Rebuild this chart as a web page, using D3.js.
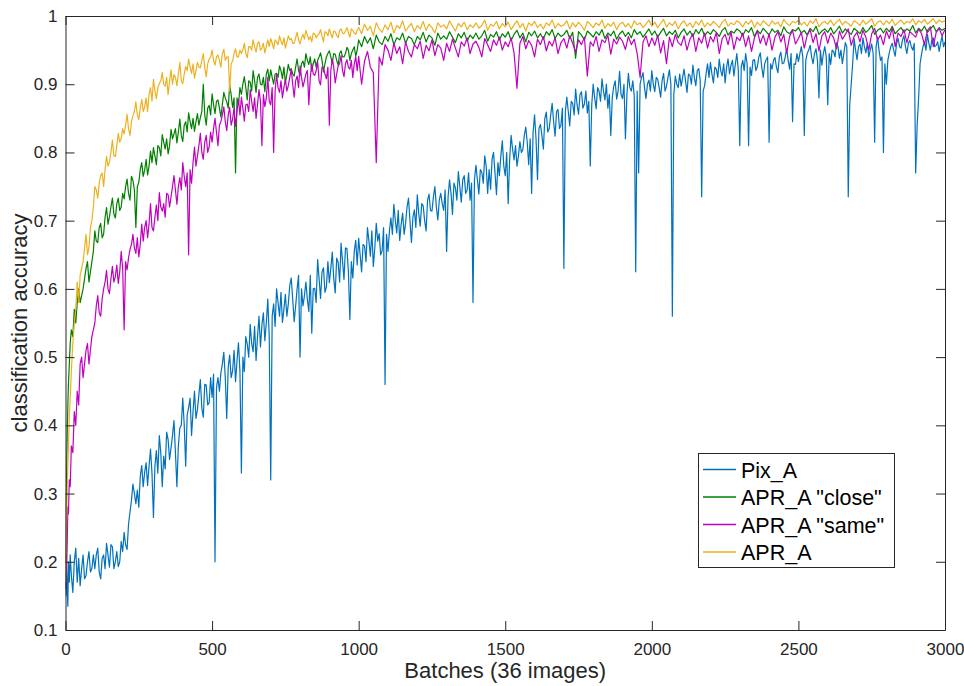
<!DOCTYPE html>
<html>
<head>
<meta charset="utf-8">
<script src="https://cdn.jsdelivr.net/npm/d3@7"></script>
<style>
html,body{margin:0;padding:0;background:#fff;}
svg{display:block;font-family:"Liberation Sans",Arial,Helvetica,sans-serif;}
</style>
</head>
<body>
<svg id="chart" width="964" height="686"></svg>
<script>
// ---- data ----
const seriesNames = ["Pix_A", "APR_A \"close\"", "APR_A \"same\"", "APR_A"];
const seriesColors = ["#0072BD", "#008000", "#C000C0", "#EDB120"];
const xTicks = [0, 500, 1000, 1500, 2000, 2500, 3000];
const xTickLabels = ["0", "500", "1000", "1500", "2000", "2500", "3000"];
const yTicks = [0.1, 0.2, 0.3, 0.4, 0.5, 0.6, 0.7, 0.8, 0.9, 1];
const yTickLabels = ["0.1","0.2","0.3","0.4","0.5","0.6","0.7","0.8","0.9","1"];

// batch index of each sample
const earlyBatches = [0,2,4,6,8,10,13,16,20,25,30,35,40,45,50];
// Pix_A: every 5 batches
const batchesPix = earlyBatches.concat(d3.range(55, 3001, 5));
// APR series: every 5 batches up to 1000, then every 10
const batchesApr = earlyBatches.concat(d3.range(55, 1001, 5), d3.range(1010, 3001, 10));

const pixA = [
0.17,0.15,0.19,0.16,0.135,0.20,0.17,0.21,0.18,0.155,0.20,0.22,0.17,0.205,0.165,
0.19,0.21,0.175,0.18,0.20,0.215,0.185,0.19,0.21,
0.19,0.21,0.22,0.185,0.175,0.205,0.21,0.19,0.227,0.21,0.192,0.225,0.222,0.19,0.20,0.215,0.193,0.20,0.23,0.215,
0.243,0.225,0.218,0.255,0.273,0.29,0.314,0.30,0.285,0.305,0.28,0.325,0.341,0.31,0.331,0.345,0.312,0.34,0.365,0.33,
0.265,0.34,0.363,0.33,0.385,0.36,0.31,0.355,0.336,0.39,0.379,0.35,0.367,0.385,0.407,0.36,0.31,0.37,0.396,0.40,
0.44,0.40,0.34,0.415,0.426,0.44,0.385,0.42,0.45,0.41,0.423,0.445,0.467,0.425,0.412,0.46,0.459,0.43,0.433,0.47,
0.441,0.475,0.20,0.455,0.47,0.45,0.477,0.49,0.507,0.47,0.41,0.485,0.503,0.47,0.48,0.51,0.464,0.495,0.521,0.48,
0.33,0.50,0.479,0.53,0.519,0.50,0.548,0.52,0.508,0.545,0.495,0.53,0.56,0.515,0.547,0.565,0.524,0.55,0.585,0.53,
0.32,0.56,0.578,0.545,0.60,0.58,0.56,0.595,0.551,0.57,0.592,0.56,0.578,0.605,0.616,0.585,0.552,0.575,0.60,0.62,
0.50,0.60,0.575,0.59,0.61,0.585,0.567,0.62,0.535,0.60,0.601,0.58,0.643,0.615,0.586,0.625,0.631,0.595,0.603,0.64,
0.609,0.63,0.654,0.615,0.594,0.645,0.639,0.61,0.667,0.64,0.614,0.66,0.659,0.625,0.555,0.64,0.616,0.655,0.671,0.635,
0.674,0.65,0.625,0.665,0.663,0.64,0.69,0.67,0.648,0.685,0.633,0.66,0.696,0.67,0.681,0.65,0.656,0.69,0.46,0.68,
0.655,0.685,0.704,0.68,0.724,0.70,0.682,0.715,0.671,0.695,0.711,0.68,0.696,0.72,0.733,0.70,0.668,0.705,0.716,0.69,
0.738,0.71,0.692,0.725,0.722,0.70,0.685,0.73,0.739,0.715,0.714,0.735,0.75,0.72,0.701,0.73,0.74,0.725,0.715,0.745,
0.655,0.735,0.76,0.74,0.709,0.755,0.748,0.73,0.772,0.75,0.727,0.76,0.766,0.74,0.745,0.77,0.73,0.755,0.58,0.76,
0.781,0.76,0.739,0.775,0.771,0.755,0.795,0.78,0.74,0.775,0.746,0.79,0.80,0.77,0.738,0.785,0.766,0.795,0.817,0.78,
0.766,0.80,0.725,0.79,0.825,0.805,0.789,0.81,0.78,0.795,0.816,0.80,0.804,0.825,0.837,0.815,0.782,0.82,0.74,0.83,
0.855,0.82,0.76,0.835,0.841,0.825,0.805,0.85,0.859,0.83,0.835,0.855,0.872,0.845,0.824,0.86,0.863,0.835,0.84,0.865,
0.63,0.86,0.881,0.86,0.839,0.875,0.872,0.855,0.893,0.87,0.856,0.885,0.889,0.865,0.871,0.89,0.858,0.875,0.78,0.87,
0.90,0.88,0.864,0.895,0.89,0.875,0.908,0.89,0.877,0.90,0.865,0.885,0.825,0.88,0.897,0.905,0.878,0.89,0.919,0.885,
0.879,0.90,0.82,0.885,0.916,0.895,0.89,0.905,0.883,0.625,0.89,0.77,0.90,0.91,0.917,0.895,0.879,0.90,0.906,0.89,
0.92,0.90,0.889,0.91,0.907,0.895,0.881,0.905,0.916,0.89,0.897,0.91,0.921,0.90,0.56,0.885,0.912,0.90,0.895,0.915,
0.897,0.91,0.922,0.905,0.888,0.915,0.913,0.90,0.928,0.91,0.898,0.92,0.923,0.905,0.735,0.89,0.898,0.915,0.93,0.91,
0.932,0.915,0.902,0.925,0.922,0.91,0.937,0.92,0.912,0.93,0.902,0.925,0.937,0.915,0.928,0.935,0.912,0.93,0.945,0.92,
0.81,0.925,0.935,0.92,0.945,0.93,0.81,0.925,0.913,0.935,0.936,0.92,0.926,0.94,0.946,0.925,0.91,0.93,0.936,0.94,
0.815,0.93,0.922,0.935,0.939,0.925,0.917,0.94,0.947,0.93,0.931,0.94,0.952,0.935,0.922,0.945,0.845,0.93,0.929,0.945,
0.933,0.945,0.955,0.94,0.825,0.935,0.945,0.95,0.957,0.94,0.93,0.945,0.952,0.935,0.88,0.95,0.928,0.945,0.955,0.94,
0.87,0.945,0.929,0.95,0.948,0.94,0.961,0.955,0.938,0.95,0.93,0.945,0.961,0.955,0.735,0.87,0.90,0.93,0.967,0.95,
0.936,0.955,0.959,0.945,0.968,0.955,0.946,0.96,0.94,0.95,0.959,0.945,0.815,0.955,0.969,0.95,0.935,0.94,0.80,0.93,
0.90,0.935,0.946,0.955,0.96,0.95,0.941,0.96,0.967,0.955,0.953,0.965,0.971,0.955,0.945,0.96,0.964,0.955,0.95,0.96,
0.77,0.84,0.88,0.93,0.944,0.955,0.962,0.95,0.973,0.96,0.95,0.965,0.968,0.955,0.957,0.962,0.948,0.96,0.971,0.955,
0.962];

const aprClose = [
0.20,0.28,0.34,0.39,0.43,0.46,0.49,0.52,0.54,0.53,0.57,0.55,0.58,0.60,0.58,
0.59,0.60,0.615,0.63,0.64,0.61,0.625,0.64,0.655,
0.685,0.67,0.668,0.69,0.696,0.675,0.68,0.705,0.719,0.695,0.706,0.72,0.733,0.71,0.704,0.725,0.733,0.715,0.72,0.74,
0.732,0.75,0.761,0.74,0.73,0.765,0.759,0.745,0.69,0.75,0.756,0.775,0.785,0.765,0.774,0.79,0.767,0.78,0.802,0.785,
0.807,0.795,0.782,0.81,0.807,0.795,0.826,0.815,0.805,0.82,0.798,0.81,0.834,0.82,0.827,0.835,0.814,0.83,0.849,0.825,
0.816,0.84,0.845,0.83,0.858,0.845,0.835,0.85,0.831,0.845,0.857,0.84,0.851,0.86,0.90,0.855,0.84,0.865,0.869,0.855,
0.886,0.87,0.857,0.875,0.877,0.865,0.852,0.87,0.888,0.88,0.874,0.865,0.899,0.885,0.866,0.88,0.77,0.88,0.87,0.895,
0.885,0.90,0.911,0.895,0.877,0.905,0.903,0.89,0.92,0.905,0.888,0.91,0.915,0.90,0.899,0.91,0.889,0.915,0.922,0.905,
0.921,0.91,0.90,0.915,0.916,0.91,0.927,0.92,0.908,0.925,0.902,0.915,0.929,0.92,0.923,0.915,0.912,0.925,0.937,0.92,
0.913,0.93,0.934,0.925,0.945,0.935,0.929,0.94,0.919,0.93,0.937,0.925,0.935,0.94,0.946,0.935,0.918,0.93,0.94,0.945,
0.949,0.94,0.931,0.945,0.944,0.935,0.928,0.945,0.949,0.94,0.94,0.945,0.954,0.95,0.935,0.945,0.95,0.955,0.941,0.95,
0.965,
0.955,0.970,0.960,0.968,0.952,0.972,0.962,0.958,0.970,
0.963,0.974,0.958,0.968,0.965,0.975,0.960,0.970,0.967,0.958,
0.970,0.965,0.976,0.962,0.972,0.968,0.957,0.975,0.966,0.971,
0.966,0.977,0.969,0.961,0.974,0.968,0.976,0.963,0.972,0.967,
0.975,0.966,0.971,0.979,0.963,0.973,0.969,0.977,0.965,0.974,
0.969,0.977,0.964,0.973,0.979,0.968,0.975,0.962,0.976,0.971,
0.978,0.968,0.974,0.966,0.977,0.972,0.980,0.967,0.975,0.970,
0.973,0.979,0.967,0.976,0.938,0.977,0.972,0.965,0.978,0.974,
0.969,0.977,0.972,0.980,0.967,0.975,0.971,0.978,0.966,0.974,
0.978,0.970,0.976,0.968,0.980,0.973,0.977,0.969,0.975,0.981,
0.972,0.978,0.969,0.976,0.982,0.971,0.977,0.973,0.979,0.968,
0.976,0.981,0.972,0.978,0.970,0.980,0.974,0.982,0.971,0.977,
0.973,0.980,0.976,0.970,0.979,0.983,0.972,0.978,0.975,0.981,
0.978,0.971,0.980,0.976,0.983,0.970,0.979,0.974,0.982,0.977,
0.972,0.981,0.976,0.979,0.971,0.984,0.977,0.974,0.980,0.978,
0.983,0.975,0.979,0.972,0.982,0.977,0.985,0.973,0.978,0.981,
0.976,0.983,0.974,0.979,0.985,0.975,0.981,0.977,0.973,0.982,
0.978,0.974,0.983,0.976,0.980,0.986,0.973,0.979,0.982,0.975,
0.982,0.977,0.985,0.974,0.979,0.983,0.976,0.981,0.978,0.986,
0.975,0.982,0.978,0.985,0.976,0.981,0.986,0.977,0.983,0.979,
0.982];

const aprSame = [
0.16,0.21,0.19,0.23,0.28,0.27,0.32,0.31,0.37,0.36,0.42,0.40,0.45,0.43,0.49,
0.50,0.47,0.49,0.51,0.52,0.49,0.51,0.53,0.54,
0.55,0.575,0.59,0.565,0.56,0.585,0.60,0.61,0.627,0.60,0.593,0.615,0.633,0.61,0.618,0.635,0.608,0.625,0.655,0.63,
0.54,0.64,0.628,0.645,0.658,0.665,0.68,0.66,0.652,0.675,0.647,0.665,0.695,0.67,0.69,0.70,0.675,0.695,0.725,0.69,
0.685,0.705,0.723,0.70,0.741,0.72,0.714,0.725,0.705,0.74,0.738,0.72,0.735,0.75,0.766,0.745,0.724,0.75,0.763,0.745,
0.785,0.765,0.75,0.77,0.65,0.775,0.755,0.785,0.808,0.78,0.795,0.81,0.828,0.80,0.79,0.815,0.825,0.80,0.808,0.83,
0.815,0.835,0.85,0.83,0.81,0.84,0.845,0.855,0.867,0.845,0.832,0.855,0.866,0.84,0.849,0.865,0.838,0.86,0.878,0.855,
0.881,0.865,0.846,0.87,0.871,0.86,0.892,0.875,0.86,0.88,0.85,0.87,0.892,0.875,0.81,0.885,0.867,0.88,0.91,0.875,
0.87,0.895,0.80,0.89,0.914,0.895,0.888,0.905,0.88,0.895,0.907,0.89,0.898,0.91,0.922,0.90,0.881,0.905,0.912,0.895,
0.927,0.91,0.896,0.905,0.915,0.92,0.87,0.91,0.93,0.915,0.913,0.92,0.933,0.905,0.899,0.925,0.923,0.915,0.908,0.925,
0.84,0.92,0.937,0.925,0.902,0.915,0.927,0.93,0.942,0.92,0.911,0.93,0.936,0.925,0.922,0.935,0.91,0.93,0.94,0.92,
0.941,
0.90,0.934,0.948,0.925,0.917,0.785,0.94,0.928,0.958,
0.950,0.935,0.960,0.945,0.955,0.930,0.962,0.948,0.940,0.958,
0.952,0.963,0.938,0.957,0.949,0.965,0.942,0.958,0.953,0.935,
0.960,0.948,0.966,0.953,0.940,0.962,0.956,0.968,0.945,0.959,
0.963,0.954,0.940,0.967,0.958,0.948,0.965,0.957,0.969,0.950,
0.962,0.955,0.968,0.946,0.894,0.960,0.970,0.952,0.964,0.957,
0.940,0.966,0.958,0.970,0.949,0.963,0.956,0.968,0.945,0.961,
0.967,0.953,0.971,0.960,0.947,0.965,0.958,0.969,0.912,0.962,
0.956,0.970,0.948,0.965,0.961,0.972,0.944,0.966,0.959,0.969,
0.963,0.951,0.970,0.958,0.966,0.945,0.910,0.962,0.971,0.955,
0.968,0.957,0.972,0.946,0.964,0.930,0.969,0.955,0.973,0.961,
0.957,0.971,0.950,0.966,0.974,0.948,0.968,0.960,0.975,0.953,
0.970,0.962,0.976,0.945,0.967,0.973,0.958,0.977,0.951,0.969,
0.964,0.975,0.955,0.971,0.948,0.968,0.978,0.960,0.972,0.957,
0.974,0.950,0.969,0.977,0.962,0.973,0.946,0.970,0.979,0.959,
0.967,0.976,0.953,0.972,0.980,0.961,0.974,0.949,0.971,0.977,
0.960,0.975,0.968,0.952,0.978,0.966,0.973,0.981,0.957,0.970,
0.976,0.962,0.979,0.969,0.950,0.974,0.982,0.965,0.972,0.958,
0.978,0.967,0.983,0.955,0.975,0.970,0.980,0.961,0.977,0.973,
0.969,0.981,0.974,0.958,0.979,0.984,0.955,0.976,0.982,0.971,
0.980];

const aprA = [
0.17,0.22,0.27,0.31,0.34,0.37,0.41,0.44,0.48,0.52,0.55,0.57,0.61,0.58,0.62,
0.63,0.64,0.66,0.68,0.65,0.66,0.69,0.70,0.72,
0.75,0.745,0.733,0.755,0.766,0.77,0.75,0.775,0.794,0.78,0.786,0.80,0.818,0.795,0.794,0.81,0.828,0.815,0.82,0.835,
0.827,0.84,0.856,0.835,0.825,0.845,0.854,0.86,0.874,0.855,0.848,0.865,0.878,0.86,0.867,0.88,0.86,0.885,0.895,0.875,
0.907,0.89,0.879,0.895,0.901,0.905,0.917,0.90,0.897,0.91,0.885,0.905,0.921,0.90,0.914,0.91,0.898,0.915,0.932,0.905,
0.901,0.915,0.926,0.92,0.937,0.925,0.916,0.93,0.909,0.92,0.932,0.925,0.924,0.935,0.945,0.925,0.911,0.93,0.937,0.94,
0.95,0.935,0.928,0.94,0.943,0.935,0.925,0.945,0.951,0.935,0.94,0.94,0.89,0.93,0.934,0.945,0.952,0.94,0.94,0.95,
0.945,0.95,0.96,0.945,0.939,0.955,0.955,0.95,0.965,0.955,0.947,0.96,0.962,0.95,0.953,0.96,0.946,0.955,0.965,0.955,
0.967,0.96,0.952,0.965,0.962,0.958,0.971,0.963,0.958,0.968,0.953,0.962,0.971,0.965,0.967,0.96,0.96,0.968,0.976,0.965,
0.959,0.968,0.973,0.966,0.979,0.972,0.965,0.97,0.962,0.975,0.974,0.968,0.972,0.974,0.98,0.97,0.962,0.977,0.975,0.971,
0.981,0.974,0.968,0.978,0.977,0.972,0.968,0.979,0.981,0.975,0.974,0.978,0.983,0.976,0.969,0.981,0.979,0.975,0.973,0.979,
0.983,
0.974,0.988,0.979,0.985,0.971,0.990,0.981,0.976,0.987,
0.980,0.991,0.975,0.986,0.982,0.993,0.978,0.984,0.989,0.977,
0.986,0.981,0.992,0.979,0.988,0.983,0.975,0.990,0.984,0.987,
0.981,0.993,0.985,0.978,0.989,0.984,0.991,0.980,0.987,0.983,
0.990,0.982,0.986,0.994,0.979,0.988,0.985,0.992,0.981,0.989,
0.984,0.991,0.980,0.987,0.993,0.983,0.989,0.978,0.990,0.986,
0.992,0.983,0.988,0.981,0.990,0.986,0.994,0.982,0.989,0.985,
0.987,0.993,0.981,0.990,0.984,0.991,0.986,0.979,0.992,0.988,
0.983,0.990,0.986,0.994,0.982,0.989,0.985,0.991,0.980,0.988,
0.991,0.984,0.989,0.982,0.993,0.987,0.990,0.983,0.988,0.994,
0.985,0.991,0.983,0.989,0.995,0.984,0.990,0.986,0.992,0.981,
0.989,0.993,0.985,0.990,0.983,0.992,0.987,0.994,0.984,0.990,
0.986,0.992,0.988,0.983,0.991,0.995,0.985,0.990,0.987,0.993,
0.990,0.984,0.992,0.988,0.994,0.983,0.991,0.986,0.993,0.989,
0.985,0.993,0.988,0.991,0.984,0.995,0.989,0.986,0.992,0.990,
0.994,0.987,0.991,0.985,0.993,0.989,0.996,0.984,0.990,0.992,
0.988,0.994,0.986,0.991,0.995,0.987,0.992,0.989,0.985,0.993,
0.990,0.986,0.994,0.988,0.992,0.996,0.985,0.991,0.993,0.987,
0.993,0.989,0.995,0.986,0.991,0.994,0.988,0.992,0.990,0.996,
0.987,0.993,0.990,0.995,0.988,0.992,0.996,0.989,0.994,0.991,
0.993];

const seriesValues = [pixA, aprClose, aprSame, aprA];
const seriesBatches = [batchesPix, batchesApr, batchesApr, batchesApr];

// ---- layout ----
const svg = d3.select("#chart");
const L = 65.5, R = 945, T = 16, B = 630;
const x = d3.scaleLinear().domain([0, 3000]).range([L, R]);
const y = d3.scaleLinear().domain([0.1, 1]).range([B, T]);
const axisColor = "#262626";
const tickLen = 9;

svg.append("defs").append("clipPath").attr("id", "clip")
  .append("rect").attr("x", L).attr("y", T).attr("width", R - L).attr("height", B - T);

// lines
const gLines = svg.append("g").attr("clip-path", "url(#clip)");
seriesValues.forEach((vals, k) => {
  const bx = seriesBatches[k];
  const n = Math.min(vals.length, bx.length);
  const pts = d3.range(n).map(i => [bx[i], vals[i]]);
  const line = d3.line().x(d => x(d[0])).y(d => y(d[1]));
  gLines.append("path")
    .datum(pts)
    .attr("fill", "none")
    .attr("stroke", seriesColors[k])
    .attr("stroke-width", 1.2)
    .attr("stroke-linejoin", "round")
    .attr("d", line);
});

// axes (box with inward ticks)
const xAxisB = d3.axisBottom(x).tickValues(xTicks).tickSizeInner(-tickLen).tickSizeOuter(0).tickPadding(13)
  .tickFormat((d, i) => xTickLabels[i]);
const xAxisT = d3.axisTop(x).tickValues(xTicks).tickSizeInner(-tickLen).tickSizeOuter(0).tickFormat("");
const yAxisL = d3.axisLeft(y).tickValues(yTicks).tickSizeInner(-tickLen).tickSizeOuter(0).tickPadding(8)
  .tickFormat((d, i) => yTickLabels[i]);
const yAxisR = d3.axisRight(y).tickValues(yTicks).tickSizeInner(-tickLen).tickSizeOuter(0).tickFormat("");

function styleAxis(g) {
  g.select(".domain").attr("stroke", axisColor).attr("stroke-width", 1);
  g.selectAll(".tick line").attr("stroke", axisColor).attr("stroke-width", 1);
  g.selectAll(".tick text").attr("fill", axisColor).style("font-size", "17px")
    .style("font-family", "'Liberation Sans', Arial, Helvetica, sans-serif");
}
svg.append("g").attr("transform", `translate(0,${B})`).call(xAxisB).call(styleAxis);
svg.append("g").attr("transform", `translate(0,${T})`).call(xAxisT).call(styleAxis);
svg.append("g").attr("transform", `translate(${L},0)`).call(yAxisL).call(styleAxis);
svg.append("g").attr("transform", `translate(${R},0)`).call(yAxisR).call(styleAxis);

// axis labels
svg.append("text")
  .attr("x", (L + R) / 2).attr("y", 678)
  .attr("text-anchor", "middle")
  .attr("fill", axisColor).style("font-size", "22px")
  .text("Batches (36 images)");
svg.append("text")
  .attr("transform", `translate(27,${(T + B) / 2}) rotate(-90)`)
  .attr("text-anchor", "middle")
  .attr("fill", axisColor).style("font-size", "22px")
  .text("classification accuracy");

// legend
const lg = svg.append("g");
lg.append("rect").attr("x", 698.5).attr("y", 453.5).attr("width", 196).attr("height", 114)
  .attr("fill", "#fff").attr("stroke", axisColor).attr("stroke-width", 1);
seriesNames.forEach((name, k) => {
  const cy = 469.5 + k * 27.5;
  lg.append("line").attr("x1", 703).attr("x2", 736).attr("y1", cy).attr("y2", cy)
    .attr("stroke", seriesColors[k]).attr("stroke-width", 1.3);
  lg.append("text").attr("x", 741).attr("y", cy + 8)
    .attr("fill", "#000").style("font-size", "21.5px")
    .text(name);
});
</script>
</body>
</html>
